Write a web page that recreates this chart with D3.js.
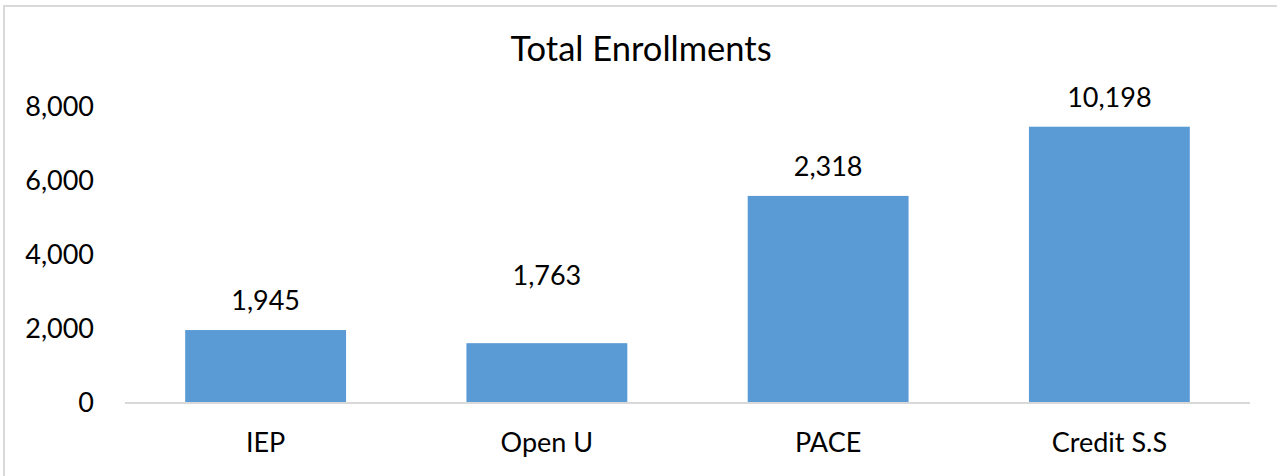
<!DOCTYPE html>
<html>
<head>
<meta charset="utf-8">
<script src="https://cdn.jsdelivr.net/npm/d3@7"></script>
<style>
  body { margin: 0; background: #fff; }
  text { font-family: Lato, "Open Sans", sans-serif; fill: #000; }
</style>
</head>
<body>
<div id="chart"></div>
<script>
var categories = ["IEP", "Open U", "PACE", "Credit S.S"];
var barValues = [1945, 1590, 5570, 7440];
var labelValues = [1945, 1763, 2318, 10198];
var yTicks = [0, 2000, 4000, 6000, 8000];

var width = 1277, height = 476;
var margin = { top: 106, right: 27, bottom: 74, left: 125 };

// the Open U label was dragged up in the original
var labelNudge = { "Open U": -38 };

var svg = d3.select("#chart").append("svg")
    .attr("width", width)
    .attr("height", height);

// chart frame (only top and left edges show in the crop)
svg.append("rect")
    .attr("x", 4)
    .attr("y", 6)
    .attr("width", width + 20)
    .attr("height", height + 20)
    .attr("fill", "#fff")
    .attr("stroke", "#d9d9d9")
    .attr("stroke-width", 2);

var x = d3.scaleBand()
    .domain(categories)
    .range([margin.left, width - margin.right])
    .paddingInner(0.428)
    .paddingOuter(0.214);

var y = d3.scaleLinear()
    .domain([0, 8000])
    .range([height - margin.bottom, margin.top]);

var fmt = d3.format(",");

svg.append("text")
    .attr("x", 641)
    .attr("y", 61)
    .attr("text-anchor", "middle")
    .style("font-size", "34.5px")
    .text("Total Enrollments");

var yAxis = svg.append("g")
    .attr("transform", "translate(" + margin.left + ",0)")
    .call(d3.axisLeft(y).tickValues(yTicks).tickFormat(fmt).tickSize(0).tickPadding(31));
yAxis.select(".domain").remove();
yAxis.selectAll("text")
    .style("font-size", "27px")
    .attr("dy", "0.36em");

svg.selectAll(".bar")
    .data(categories)
    .enter().append("rect")
    .attr("class", "bar")
    .attr("x", function(d) { return x(d); })
    .attr("width", x.bandwidth())
    .attr("y", function(d, i) { return y(barValues[i]); })
    .attr("height", function(d, i) { return y(0) - y(barValues[i]); })
    .attr("fill", "#5b9bd5");

svg.append("line")
    .attr("x1", margin.left)
    .attr("x2", width - margin.right)
    .attr("y1", y(0) + 1)
    .attr("y2", y(0) + 1)
    .attr("stroke", "#d9d9d9")
    .attr("stroke-width", 2);

svg.selectAll(".label")
    .data(categories)
    .enter().append("text")
    .attr("class", "label")
    .attr("x", function(d) { return x(d) + x.bandwidth() / 2; })
    .attr("y", function(d, i) { return y(barValues[i]) - 20 + (labelNudge[d] || 0); })
    .attr("text-anchor", "middle")
    .style("font-size", "27px")
    .text(function(d, i) { return fmt(labelValues[i]); });

var xAxis = svg.append("g")
    .attr("transform", "translate(0," + y(0) + ")")
    .call(d3.axisBottom(x).tickSize(0).tickPadding(31));
xAxis.select(".domain").remove();
xAxis.selectAll("text")
    .style("font-size", "27px")
    .attr("dy", "0.71em");
</script>
</body>
</html>
